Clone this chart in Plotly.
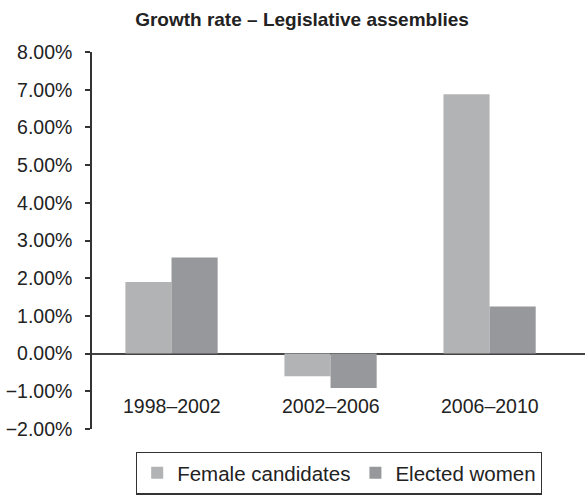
import plotly.graph_objects as go

categories = ["1998–2002", "2002–2006", "2006–2010"]
female_candidates = [1.90, -0.60, 6.88]
elected_women = [2.55, -0.91, 1.25]
y_ticks = [8, 7, 6, 5, 4, 3, 2, 1, 0, -1, -2]

W, H = 585, 495
ml, mr, mt, mb = 92, 0, 52, 58

fig = go.Figure()
fig.add_trace(go.Bar(x=categories, y=female_candidates, name="Female candidates",
                     marker=dict(color="#b2b3b5", line=dict(width=0))))
fig.add_trace(go.Bar(x=categories, y=elected_women, name="Elected women",
                     marker=dict(color="#97989b", line=dict(width=0))))

for c in categories:
    fig.add_annotation(x=c, y=-1.4, xref="x", yref="y", text=c, showarrow=False,
                       font=dict(family="Liberation Sans, Arial", size=19.5, color="#222"),
                       yanchor="middle")

fig.update_layout(
    width=W, height=H,
    margin=dict(l=ml, r=mr, t=mt, b=mb),
    paper_bgcolor="white", plot_bgcolor="white",
    barmode="group", bargap=0.42, bargroupgap=0,
    title=dict(text="<b>Growth rate – Legislative assemblies</b>",
               x=302 / W, xanchor="center", y=1 - 19 / H, yanchor="middle",
               font=dict(family="Liberation Sans, Arial", size=19, color="#222")),
    font=dict(family="Liberation Sans, Arial", color="#222"),
    showlegend=True,
    legend=dict(orientation="h", x=0.501, xanchor="center", y=-0.06, yanchor="top",
                bordercolor="#333", borderwidth=1.2, bgcolor="white",
                font=dict(size=20.5, color="#222"), itemwidth=30,
                tracegroupgap=0),
)
fig.update_xaxes(range=[-0.5, 2.6], showticklabels=False, showline=False,
                 showgrid=False, zeroline=False, ticks="")
fig.update_yaxes(range=[-2, 8], tickvals=y_ticks, ticktext=[f"{v:.2f}%".replace("-", "−") for v in y_ticks],
                 showgrid=False, zeroline=True, zerolinecolor="#444", zerolinewidth=1.5,
                 showline=True, linecolor="#333", linewidth=1.5,
                 ticks="outside", ticklen=5, tickcolor="#333", tickwidth=1.5,
                 tickfont=dict(size=19.5, color="#222"), ticklabelstandoff=9)

fig.write_html("out.html")
